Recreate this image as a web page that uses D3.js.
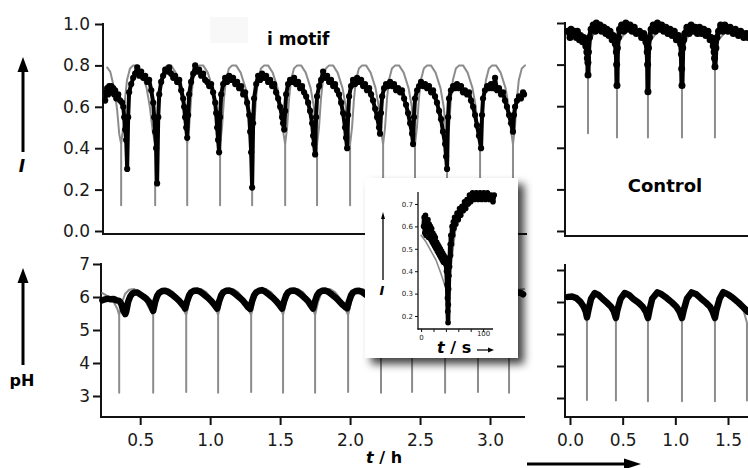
<!DOCTYPE html>
<html>
<head>
<meta charset="utf-8">
<script src="https://cdnjs.cloudflare.com/ajax/libs/d3/7.8.5/d3.min.js"></script>
<style>
  body { margin: 0; background: #fff; }
  svg { display: block; }
  text { font-family: "DejaVu Sans", Verdana, sans-serif; }
</style>
</head>
<body>
<div id="chart"></div>
<script>
// ---- data (t in hours, I = normalised intensity) ----
var ticksI = [0, 0.2, 0.4, 0.6, 0.8, 1.0];
var ticksPH = [3, 4, 5, 6, 7];
var ticksTLeft = [0.5, 1.0, 1.5, 2.0, 2.5, 3.0];
var ticksTRight = [0.0, 0.5, 1.0, 1.5];
var ticksInsetI = [0.2, 0.3, 0.4, 0.5, 0.6, 0.7];
var ticksInsetT = [0, 20, 40, 60, 80, 100];

// i motif, fluorescence: model (grey) and measured (black)
var modelTop = [
  [0.264,0.79],[0.286,0.77],[0.307,0.71],[0.321,0.66],[0.336,0.58],[0.350,0.47],
  [0.364,0.42],[0.364,0.125],[0.364,0.42],
  [0.378,0.50],[0.392,0.64],[0.406,0.73],[0.427,0.785],[0.450,0.80],[0.478,0.80],[0.511,0.765],[0.546,0.69],[0.569,0.60],[0.590,0.48],
  [0.607,0.42],[0.607,0.125],[0.607,0.42],
  [0.621,0.50],[0.635,0.64],[0.649,0.73],[0.670,0.785],[0.693,0.80],[0.721,0.80],[0.754,0.765],[0.789,0.69],[0.812,0.60],[0.827,0.48],
  [0.836,0.42],[0.836,0.125],[0.836,0.42],
  [0.850,0.50],[0.864,0.64],[0.878,0.73],[0.899,0.785],[0.922,0.80],[0.950,0.80],[0.983,0.765],[1.018,0.69],[1.041,0.60],[1.058,0.48],
  [1.071,0.42],[1.071,0.125],[1.071,0.42],
  [1.085,0.50],[1.099,0.64],[1.113,0.73],[1.134,0.785],[1.157,0.80],[1.185,0.80],[1.218,0.765],[1.253,0.69],[1.276,0.60],[1.291,0.48],
  [1.300,0.42],[1.300,0.125],[1.300,0.42],
  [1.314,0.50],[1.328,0.64],[1.342,0.73],[1.363,0.785],[1.386,0.80],[1.414,0.80],[1.447,0.765],[1.482,0.69],[1.505,0.60],[1.522,0.48],
  [1.536,0.42],[1.536,0.125],[1.536,0.42],
  [1.550,0.50],[1.564,0.64],[1.578,0.73],[1.599,0.785],[1.622,0.80],[1.650,0.80],[1.683,0.765],[1.718,0.69],[1.741,0.60],[1.756,0.48],
  [1.764,0.42],[1.764,0.125],[1.764,0.42],
  [1.778,0.50],[1.792,0.64],[1.806,0.73],[1.827,0.785],[1.850,0.80],[1.878,0.80],[1.911,0.765],[1.946,0.69],[1.969,0.60],[1.986,0.48],
  [2.000,0.42],[2.000,0.125],[2.000,0.42],
  [2.014,0.50],[2.028,0.64],[2.042,0.73],[2.063,0.785],[2.086,0.80],[2.114,0.80],[2.147,0.765],[2.182,0.69],[2.205,0.60],[2.222,0.48],
  [2.236,0.42],[2.236,0.125],[2.236,0.42],
  [2.250,0.50],[2.264,0.64],[2.278,0.73],[2.299,0.785],[2.322,0.80],[2.350,0.80],[2.383,0.765],[2.418,0.69],[2.441,0.60],[2.456,0.48],
  [2.464,0.42],[2.464,0.125],[2.464,0.42],
  [2.478,0.50],[2.492,0.64],[2.506,0.73],[2.527,0.785],[2.550,0.80],[2.578,0.80],[2.611,0.765],[2.646,0.69],[2.669,0.60],[2.685,0.48],
  [2.693,0.42],[2.693,0.125],[2.693,0.42],
  [2.707,0.50],[2.721,0.64],[2.735,0.73],[2.756,0.785],[2.779,0.80],[2.807,0.80],[2.840,0.765],[2.875,0.69],[2.898,0.60],[2.915,0.48],
  [2.929,0.42],[2.929,0.125],[2.929,0.42],
  [2.943,0.50],[2.957,0.64],[2.971,0.73],[2.992,0.785],[3.015,0.80],[3.043,0.80],[3.076,0.765],[3.111,0.69],[3.134,0.60],[3.151,0.48],
  [3.164,0.42],[3.164,0.125],[3.164,0.42],
  [3.178,0.50],[3.192,0.64],[3.206,0.73],[3.227,0.785],[3.250,0.80]
];

var measTop = [
  [0.250,0.63],[0.257,0.67],[0.264,0.69],[0.271,0.66],[0.279,0.70],[0.286,0.68],[0.293,0.70],[0.300,0.67],[0.307,0.69],[0.314,0.66],[0.321,0.68],[0.329,0.64],[0.343,0.66],[0.357,0.63],[0.371,0.62],[0.379,0.60],[0.386,0.55],[0.393,0.49],[0.400,0.44],[0.407,0.30],
  [0.414,0.55],[0.421,0.67],[0.436,0.71],[0.450,0.74],[0.464,0.76],[0.479,0.79],[0.493,0.75],[0.507,0.77],[0.521,0.74],[0.536,0.75],[0.550,0.72],[0.564,0.73],[0.579,0.68],[0.593,0.62],[0.600,0.55],[0.607,0.48],[0.614,0.40],[0.621,0.23],
  [0.629,0.55],[0.636,0.66],[0.650,0.72],[0.664,0.75],[0.679,0.78],[0.693,0.77],[0.707,0.79],[0.721,0.76],[0.736,0.74],[0.750,0.75],[0.764,0.72],[0.779,0.73],[0.793,0.68],[0.807,0.64],[0.814,0.60],[0.821,0.55],[0.829,0.50],[0.836,0.45],
  [0.843,0.56],[0.850,0.66],[0.864,0.72],[0.879,0.76],[0.893,0.80],[0.907,0.77],[0.921,0.78],[0.936,0.75],[0.950,0.76],[0.964,0.73],[0.979,0.72],[0.993,0.70],[1.007,0.71],[1.021,0.67],[1.036,0.62],[1.043,0.57],[1.050,0.50],[1.057,0.44],[1.064,0.38],
  [1.071,0.55],[1.079,0.66],[1.093,0.71],[1.107,0.74],[1.121,0.72],[1.136,0.75],[1.150,0.73],[1.164,0.74],[1.179,0.71],[1.193,0.72],[1.207,0.69],[1.221,0.70],[1.236,0.66],[1.250,0.67],[1.264,0.62],[1.279,0.56],[1.286,0.48],[1.293,0.38],[1.300,0.21],
  [1.307,0.52],[1.314,0.64],[1.329,0.71],[1.343,0.75],[1.357,0.73],[1.371,0.76],[1.386,0.74],[1.400,0.75],[1.414,0.72],[1.429,0.73],[1.443,0.70],[1.457,0.71],[1.471,0.67],[1.486,0.64],[1.500,0.60],[1.514,0.55],[1.521,0.52],[1.529,0.49],
  [1.536,0.58],[1.543,0.66],[1.557,0.71],[1.571,0.73],[1.586,0.72],[1.600,0.74],[1.614,0.71],[1.629,0.72],[1.643,0.69],[1.657,0.70],[1.671,0.67],[1.686,0.65],[1.700,0.62],[1.714,0.58],[1.729,0.52],[1.736,0.46],[1.743,0.42],[1.750,0.37],
  [1.757,0.55],[1.764,0.65],[1.779,0.70],[1.793,0.73],[1.807,0.77],[1.821,0.74],[1.836,0.75],[1.850,0.72],[1.864,0.73],[1.879,0.70],[1.893,0.71],[1.907,0.68],[1.921,0.66],[1.936,0.62],[1.950,0.57],[1.964,0.50],[1.971,0.45],[1.979,0.40],
  [1.986,0.56],[1.993,0.65],[2.007,0.70],[2.021,0.73],[2.036,0.71],[2.050,0.74],[2.064,0.72],[2.079,0.73],[2.093,0.70],[2.107,0.71],[2.121,0.68],[2.136,0.69],[2.150,0.66],[2.164,0.63],[2.179,0.59],[2.193,0.55],[2.207,0.50],[2.214,0.47],
  [2.221,0.57],[2.229,0.65],[2.243,0.69],[2.257,0.71],[2.271,0.70],[2.286,0.72],[2.300,0.70],[2.314,0.71],[2.329,0.68],[2.343,0.69],[2.357,0.67],[2.371,0.68],[2.386,0.64],[2.400,0.61],[2.414,0.57],[2.429,0.52],[2.443,0.47],[2.450,0.42],
  [2.457,0.55],[2.464,0.64],[2.479,0.68],[2.493,0.70],[2.507,0.72],[2.521,0.70],[2.536,0.71],[2.550,0.69],[2.564,0.70],[2.579,0.67],[2.593,0.68],[2.607,0.65],[2.621,0.62],[2.636,0.58],[2.650,0.54],[2.664,0.48],[2.679,0.42],[2.686,0.36],[2.693,0.30],
  [2.700,0.55],[2.707,0.64],[2.721,0.68],[2.736,0.70],[2.750,0.69],[2.764,0.71],[2.779,0.69],[2.793,0.70],[2.807,0.67],[2.821,0.68],[2.836,0.66],[2.850,0.67],[2.864,0.63],[2.879,0.60],[2.893,0.56],[2.907,0.51],[2.921,0.46],[2.936,0.40],
  [2.943,0.56],[2.950,0.64],[2.964,0.68],[2.979,0.70],[2.993,0.69],[3.007,0.71],[3.021,0.69],[3.036,0.74],[3.050,0.68],[3.064,0.69],[3.079,0.66],[3.093,0.67],[3.107,0.63],[3.121,0.60],[3.136,0.56],[3.150,0.52],[3.164,0.48],
  [3.171,0.56],[3.179,0.60],[3.193,0.63],[3.207,0.65],[3.221,0.64],[3.236,0.67],[3.243,0.66]
];

// i motif, pH
var modelPH = [
  [0.230,6.12],[0.257,6.05],[0.286,5.95],[0.314,5.82],[0.336,5.65],
  [0.350,5.45],[0.350,3.10],[0.350,5.45],
  [0.371,5.85],[0.393,6.10],[0.421,6.22],[0.457,6.24],[0.493,6.15],[0.529,5.95],[0.557,5.72],
  [0.593,5.45],[0.593,3.10],[0.593,5.45],
  [0.614,5.85],[0.636,6.10],[0.664,6.22],[0.700,6.24],[0.736,6.15],[0.772,5.95],[0.800,5.72],
  [0.829,5.45],[0.829,3.12],[0.829,5.45],
  [0.850,5.85],[0.872,6.10],[0.900,6.22],[0.936,6.24],[0.972,6.15],[1.008,5.95],[1.036,5.72],
  [1.057,5.45],[1.057,3.10],[1.057,5.45],
  [1.078,5.85],[1.100,6.10],[1.128,6.22],[1.164,6.24],[1.200,6.15],[1.236,5.95],[1.264,5.72],
  [1.293,5.45],[1.293,3.12],[1.293,5.45],
  [1.314,5.85],[1.336,6.10],[1.364,6.22],[1.400,6.24],[1.436,6.15],[1.472,5.95],[1.500,5.72],
  [1.521,5.45],[1.521,3.10],[1.521,5.45],
  [1.542,5.85],[1.564,6.10],[1.592,6.22],[1.628,6.24],[1.664,6.15],[1.700,5.95],[1.728,5.72],
  [1.750,5.45],[1.750,3.10],[1.750,5.45],
  [1.771,5.85],[1.793,6.10],[1.821,6.22],[1.857,6.24],[1.893,6.15],[1.929,5.95],[1.957,5.72],
  [1.986,5.45],[1.986,3.12],[1.986,5.45],
  [2.007,5.85],[2.029,6.10],[2.057,6.22],[2.093,6.24],[2.129,6.15],[2.165,5.95],[2.193,5.72],
  [2.221,5.45],[2.221,3.10],[2.221,5.45],
  [2.242,5.85],[2.264,6.10],[2.292,6.22],[2.328,6.24],[2.364,6.15],[2.400,5.95],[2.428,5.72],
  [2.443,5.45],[2.443,3.12],[2.443,5.45],
  [2.464,5.85],[2.486,6.10],[2.514,6.22],[2.550,6.24],[2.586,6.15],[2.622,5.95],[2.650,5.72],
  [2.679,5.45],[2.679,3.10],[2.679,5.45],
  [2.700,5.85],[2.722,6.10],[2.750,6.22],[2.786,6.24],[2.822,6.15],[2.858,5.95],[2.886,5.72],
  [2.914,5.45],[2.914,3.12],[2.914,5.45],
  [2.935,5.85],[2.957,6.10],[2.985,6.22],[3.021,6.24],[3.057,6.15],[3.093,5.95],[3.121,5.72],
  [3.136,5.45],[3.136,3.10],[3.136,5.45],
  [3.157,5.85],[3.179,6.10],[3.207,6.22],[3.243,6.24]
];

var measPH = [
  [0.230,5.90],[0.250,5.93],[0.270,5.95],[0.290,5.93],[0.310,5.94],[0.330,5.90],[0.350,5.88],[0.364,5.80],[0.379,5.60],[0.393,5.48],[0.400,5.55],
  [0.414,5.85],[0.429,6.02],[0.443,6.10],[0.457,6.13],[0.479,6.14],[0.500,6.08],[0.521,6.02],[0.543,5.95],[0.564,5.85],[0.579,5.72],[0.593,5.58],
  [0.607,5.85],[0.621,6.03],[0.636,6.13],[0.657,6.18],[0.679,6.19],[0.700,6.15],[0.729,6.07],[0.757,5.97],[0.779,5.88],[0.800,5.78],[0.814,5.70],[0.821,5.65],
  [0.836,5.88],[0.850,6.05],[0.864,6.14],[0.886,6.19],[0.907,6.20],[0.929,6.16],[0.957,6.07],[0.986,5.97],[1.007,5.88],[1.029,5.77],[1.043,5.69],[1.050,5.65],
  [1.065,5.88],[1.079,6.05],[1.093,6.14],[1.114,6.19],[1.136,6.20],[1.157,6.16],[1.186,6.07],[1.214,5.97],[1.236,5.88],[1.257,5.77],[1.271,5.69],[1.286,5.64],
  [1.300,5.88],[1.314,6.05],[1.329,6.14],[1.350,6.19],[1.371,6.21],[1.393,6.16],[1.421,6.07],[1.450,5.97],[1.471,5.88],[1.493,5.77],[1.507,5.69],[1.514,5.65],
  [1.529,5.88],[1.543,6.05],[1.557,6.14],[1.579,6.19],[1.600,6.20],[1.621,6.16],[1.650,6.07],[1.679,5.96],[1.700,5.87],[1.714,5.78],[1.729,5.69],[1.736,5.65],
  [1.750,5.88],[1.764,6.05],[1.779,6.14],[1.800,6.19],[1.821,6.20],[1.843,6.16],[1.871,6.07],[1.900,5.97],[1.921,5.88],[1.943,5.78],[1.964,5.70],[1.979,5.66],
  [1.993,5.88],[2.007,6.05],[2.021,6.14],[2.043,6.18],[2.064,6.19],[2.086,6.15],[2.114,6.07],[2.143,5.97],[2.164,5.88],[2.186,5.78],[2.200,5.70],[2.214,5.66],
  [2.229,5.88],[2.243,6.05],[2.257,6.14],[2.279,6.18],[2.300,6.19],[2.321,6.15],[2.350,6.07],[2.379,5.97],[2.400,5.88],[2.421,5.78],[2.436,5.70],[2.443,5.66],
  [2.457,5.88],[2.471,6.05],[2.486,6.14],[2.507,6.18],[2.529,6.19],[2.550,6.15],[2.579,6.07],[2.607,5.97],[2.629,5.88],[2.650,5.78],[2.664,5.70],[2.679,5.66],
  [2.693,5.88],[2.707,6.05],[2.721,6.14],[2.743,6.18],[2.764,6.19],[2.786,6.15],[2.814,6.07],[2.843,5.97],[2.864,5.88],[2.886,5.78],[2.900,5.70],[2.914,5.66],
  [2.929,5.88],[2.943,6.05],[2.957,6.14],[2.979,6.18],[3.000,6.19],[3.021,6.15],[3.050,6.07],[3.079,5.97],[3.100,5.88],[3.114,5.78],[3.129,5.70],[3.136,5.66],
  [3.150,5.88],[3.164,6.02],[3.179,6.10],[3.200,6.14],[3.221,6.12],[3.236,6.08]
];

// control, fluorescence
var modelCtrl = [
  [-0.03,0.95],[0.10,0.94],[0.171,0.90],[0.171,0.47],[0.171,0.90],
  [0.25,0.97],[0.40,0.94],[0.446,0.90],[0.446,0.45],[0.446,0.90],
  [0.55,0.97],[0.70,0.94],[0.740,0.90],[0.740,0.45],[0.740,0.90],
  [0.85,0.97],[1.02,0.94],[1.063,0.90],[1.063,0.45],[1.063,0.90],
  [1.18,0.97],[1.35,0.94],[1.376,0.90],[1.376,0.45],[1.376,0.90],
  [1.50,0.97],[1.69,0.94]
];

var measCtrl = [
  [-0.02,0.96],[0.00,0.93],[0.01,0.97],[0.03,0.94],[0.04,0.96],[0.06,0.93],[0.07,0.96],[0.09,0.92],[0.10,0.94],[0.12,0.91],[0.13,0.93],[0.15,0.89],
  [0.160,0.86],[0.165,0.83],[0.170,0.81],[0.171,0.75],[0.175,0.86],[0.185,0.93],
  [0.20,0.97],[0.22,0.99],[0.24,0.96],[0.25,1.00],[0.27,0.97],[0.285,0.99],[0.30,0.96],[0.32,0.98],[0.34,0.95],[0.35,0.97],[0.37,0.94],[0.38,0.96],[0.40,0.92],[0.41,0.94],[0.43,0.90],
  [0.440,0.86],[0.443,0.80],[0.446,0.70],[0.450,0.88],[0.46,0.93],
  [0.47,0.97],[0.49,0.99],[0.51,0.96],[0.53,1.00],[0.55,0.97],[0.57,0.99],[0.59,0.96],[0.61,0.98],[0.63,0.95],[0.66,0.96],[0.68,0.93],[0.70,0.95],[0.72,0.91],
  [0.733,0.86],[0.737,0.80],[0.740,0.67],[0.745,0.88],[0.755,0.93],
  [0.77,0.97],[0.79,0.99],[0.81,0.96],[0.83,1.00],[0.85,0.97],[0.87,0.99],[0.89,0.96],[0.91,0.98],[0.93,0.95],[0.95,0.97],[0.97,0.94],[0.99,0.96],[1.01,0.92],[1.03,0.94],[1.05,0.90],
  [1.058,0.85],[1.060,0.78],[1.063,0.70],[1.070,0.88],[1.08,0.92],
  [1.09,0.95],[1.11,0.98],[1.13,0.95],[1.15,0.99],[1.17,0.96],[1.19,0.98],[1.21,0.95],[1.23,0.98],[1.25,0.95],[1.27,0.97],[1.29,0.94],[1.31,0.96],[1.33,0.92],[1.34,0.93],[1.36,0.89],
  [1.368,0.86],[1.372,0.83],[1.376,0.79],[1.385,0.88],[1.395,0.93],
  [1.41,0.96],[1.43,0.99],[1.45,0.96],[1.47,0.99],[1.50,0.96],[1.52,0.98],[1.55,0.95],[1.57,0.97],[1.60,0.94],[1.62,0.96],[1.65,0.93],[1.67,0.95],[1.69,0.93]
];

// control, pH
var modelCtrlPH = [
  [-0.03,6.18],[0.03,6.15],[0.08,6.05],[0.12,5.88],[0.145,5.65],
  [0.161,5.35],[0.161,2.94],[0.161,5.35],
  [0.181,5.85],[0.211,6.15],[0.241,6.27],[0.281,6.22],[0.331,6.08],[0.381,5.90],[0.406,5.70],
  [0.436,5.35],[0.436,2.92],[0.436,5.35],
  [0.456,5.85],[0.486,6.15],[0.516,6.27],[0.556,6.22],[0.606,6.08],[0.656,5.90],[0.710,5.70],
  [0.740,5.35],[0.740,2.90],[0.740,5.35],
  [0.760,5.85],[0.790,6.15],[0.820,6.27],[0.860,6.22],[0.910,6.08],[0.980,5.90],[1.033,5.70],
  [1.063,5.35],[1.063,2.90],[1.063,5.35],
  [1.083,5.85],[1.113,6.15],[1.143,6.27],[1.183,6.22],[1.233,6.08],[1.293,5.90],[1.346,5.70],
  [1.376,5.35],[1.376,2.90],[1.376,5.35],
  [1.396,5.85],[1.426,6.15],[1.456,6.27],[1.496,6.22],[1.546,6.08],[1.606,5.90],[1.650,5.70],
  [1.680,5.35],[1.680,2.92]
];

var measCtrlPH = [
  [-0.02,6.16],[0.02,6.17],[0.06,6.12],[0.10,6.00],[0.13,5.85],[0.15,5.70],[0.161,5.52],
  [0.175,5.75],[0.20,6.10],[0.235,6.28],[0.27,6.22],[0.31,6.10],[0.35,5.98],[0.39,5.85],[0.415,5.72],[0.436,5.50],
  [0.45,5.75],[0.48,6.10],[0.52,6.28],[0.56,6.22],[0.60,6.10],[0.65,5.98],[0.69,5.85],[0.72,5.70],[0.740,5.50],
  [0.755,5.75],[0.78,6.10],[0.83,6.30],[0.87,6.24],[0.92,6.12],[0.97,5.98],[1.01,5.85],[1.04,5.70],[1.063,5.50],
  [1.08,5.75],[1.11,6.10],[1.155,6.30],[1.20,6.24],[1.24,6.12],[1.29,5.98],[1.33,5.85],[1.355,5.70],[1.376,5.50],
  [1.39,5.75],[1.42,6.10],[1.455,6.31],[1.50,6.24],[1.55,6.12],[1.60,5.98],[1.65,5.82],[1.69,5.69]
];

// inset: single pulse, t in seconds
var modelInset = [
  [0,0.56],[8,0.53],[16,0.49],[24,0.45],[32,0.39],[38,0.34],[42,0.30],[43.5,0.20],
  [45,0.30],[47,0.38],[50,0.46],[53,0.53],[56,0.59],[62,0.65],[70,0.69],[80,0.71],[95,0.72],[115,0.72]
];

var measInset = [
  [4,0.60],[5,0.64],[6,0.57],[7,0.65],[8,0.56],[9,0.62],[10,0.58],[11,0.63],[12,0.55],[13,0.61],[14,0.56],[15,0.60],
  [16,0.54],[17,0.59],[18,0.53],[19,0.57],[20,0.52],[21,0.56],[22,0.51],[23,0.55],[24,0.50],[25,0.53],[26,0.49],[27,0.52],
  [28,0.48],[29,0.51],[30,0.47],[31,0.50],[32,0.46],[33,0.49],[34,0.45],[35,0.48],[36,0.44],[37,0.47],[38,0.44],[39,0.46],
  [40,0.43],[41,0.40],[42,0.34],[42.5,0.28],[43,0.22],[43.5,0.17],[44,0.25],[44.5,0.32],[45,0.38],[45.5,0.46],[46,0.42],
  [47,0.52],[47.5,0.47],[48,0.56],[49,0.52],[50,0.60],[51,0.56],[52,0.62],[53,0.59],[54,0.64],[56,0.61],[58,0.66],
  [60,0.63],[62,0.68],[64,0.65],[66,0.69],[68,0.67],[70,0.71],[72,0.68],[74,0.72],[76,0.70],[78,0.74],[80,0.71],
  [83,0.75],[86,0.72],[89,0.75],[92,0.72],[95,0.75],[98,0.72],[101,0.75],[104,0.72],[107,0.75],[110,0.72],[113,0.74],
  [116,0.71],[118,0.74]
];

// ---- drawing ----
var svg = d3.select("#chart").append("svg")
  .attr("width", 748)
  .attr("height", 468);

var defs = svg.append("defs");
var shadow = defs.append("filter").attr("id", "shadow")
  .attr("x", "-20%").attr("y", "-20%").attr("width", "150%").attr("height", "150%");
shadow.append("feDropShadow")
  .attr("dx", 6).attr("dy", 6)
  .attr("stdDeviation", 4)
  .attr("flood-color", "#000")
  .attr("flood-opacity", 0.75);

var GREY = "#8c8c8c";

var xL = d3.scaleLinear().domain([0.22, 3.25]).range([101, 525]);
var xR = d3.scaleLinear().domain([0, 1.5]).range([570, 728]);
var yTop = d3.scaleLinear().domain([0, 1]).range([231, 24]);
var yTopR = d3.scaleLinear().domain([0, 1]).range([231, 23]);
var yPH = d3.scaleLinear().domain([3, 7]).range([396, 264]);
var yPHR = d3.scaleLinear().domain([3, 7]).range([398, 270]);

function axisLine(x1, y1, x2, y2) {
  svg.append("line")
    .attr("x1", x1).attr("y1", y1)
    .attr("x2", x2).attr("y2", y2)
    .attr("stroke", "#111")
    .attr("stroke-width", 2);
}

function styleAxis(g, size) {
  g.select(".domain").remove();
  g.selectAll(".tick line").attr("stroke", "#111").attr("stroke-width", 2);
  g.selectAll(".tick text")
    .attr("fill", "#1a1a1a")
    .style("font-size", size + "px")
    .style("font-family", "'DejaVu Sans', Verdana, sans-serif");
}

function series(data, x, y, color, width, dots) {
  var line = d3.line()
    .x(function(d) { return x(d[0]); })
    .y(function(d) { return y(d[1]); });
  svg.append("path")
    .datum(data)
    .attr("d", line)
    .attr("fill", "none")
    .attr("stroke", color)
    .attr("stroke-width", width)
    .attr("stroke-linejoin", "round")
    .attr("stroke-linecap", "round");
  if (dots) {
    svg.append("g").selectAll("circle")
      .data(data)
      .join("circle")
      .attr("cx", function(d) { return x(d[0]); })
      .attr("cy", function(d) { return y(d[1]); })
      .attr("r", dots)
      .attr("fill", color);
  }
}

// faint box behind the title
svg.append("rect")
  .attr("x", 210).attr("y", 17)
  .attr("width", 38).attr("height", 26)
  .attr("fill", "#f8f8f8");

// top-left panel (i motif, I)
var gy1 = svg.append("g").attr("transform", "translate(103,0)")
  .call(d3.axisLeft(yTop).tickValues(ticksI).tickFormat(d3.format(".1f")).tickSize(8).tickPadding(5));
styleAxis(gy1, 17);
axisLine(103, 23, 103, 235);
axisLine(102, 234, 527, 234);

series(modelTop, xL, yTop, GREY, 2, 0);
series(measTop, xL, yTop, "#000", 4, 3.1);

svg.append("text")
  .attr("x", 267).attr("y", 45)
  .attr("font-weight", "bold")
  .style("font-size", "17px")
  .text("i motif");

// bottom-left panel (i motif, pH)
var gy2 = svg.append("g").attr("transform", "translate(101,0)")
  .call(d3.axisLeft(yPH).tickValues(ticksPH).tickFormat(d3.format("d")).tickSize(8).tickPadding(3));
styleAxis(gy2, 17);
var gx2 = svg.append("g").attr("transform", "translate(0,417)")
  .call(d3.axisBottom(xL).tickValues(ticksTLeft).tickFormat(d3.format(".1f")).tickSize(8).tickPadding(9));
styleAxis(gx2, 17);
axisLine(101, 263, 101, 418);
axisLine(100, 417, 525, 417);

series(modelPH, xL, yPH, GREY, 2, 0);
series(measPH, xL, yPH, "#000", 6.5, 0);

// top-right panel (control, I)
var gy3 = svg.append("g").attr("transform", "translate(565,0)")
  .call(d3.axisLeft(yTopR).tickValues(ticksI).tickFormat("").tickSize(8));
styleAxis(gy3, 17);
axisLine(565, 22, 565, 237);
axisLine(564, 236, 748, 236);

series(modelCtrl, xR, yTopR, GREY, 2, 0);
series(measCtrl, xR, yTopR, "#000", 5, 3.5);

svg.append("text")
  .attr("x", 665).attr("y", 192)
  .attr("text-anchor", "middle")
  .attr("font-weight", "bold")
  .style("font-size", "18px")
  .text("Control");

// bottom-right panel (control, pH)
var gy4 = svg.append("g").attr("transform", "translate(565,0)")
  .call(d3.axisLeft(yPHR).tickValues(ticksPH).tickFormat("").tickSize(8));
styleAxis(gy4, 17);
var gx4 = svg.append("g").attr("transform", "translate(0,417)")
  .call(d3.axisBottom(xR).tickValues(ticksTRight).tickFormat(d3.format(".1f")).tickSize(8).tickPadding(9));
styleAxis(gx4, 17);
axisLine(565, 264, 565, 418);
axisLine(564, 417, 748, 417);

series(modelCtrlPH, xR, yPHR, GREY, 2, 0);
series(measCtrlPH, xR, yPHR, "#000", 6.5, 0);

// axis titles and arrows
function arrowUp(x, yTip, yEnd) {
  svg.append("line")
    .attr("x1", x).attr("y1", yTip + 12)
    .attr("x2", x).attr("y2", yEnd)
    .attr("stroke", "#000").attr("stroke-width", 3);
  svg.append("path")
    .attr("d", "M" + x + "," + yTip + "L" + (x - 5.5) + "," + (yTip + 15) + "L" + (x + 5.5) + "," + (yTip + 15) + "Z")
    .attr("fill", "#000");
}
arrowUp(23, 57, 152);
arrowUp(23, 268, 365);

svg.append("text")
  .attr("x", 22).attr("y", 172)
  .attr("text-anchor", "middle")
  .attr("font-weight", "bold").attr("font-style", "italic")
  .style("font-size", "17px")
  .text("I");

svg.append("text")
  .attr("x", 22).attr("y", 386)
  .attr("text-anchor", "middle")
  .attr("font-weight", "bold")
  .style("font-size", "16px")
  .text("pH");

var th = svg.append("text")
  .attr("x", 384).attr("y", 463)
  .attr("text-anchor", "middle")
  .attr("font-weight", "bold")
  .style("font-size", "16px");
th.append("tspan").attr("font-style", "italic").text("t");
th.append("tspan").text(" / h");

svg.append("line")
  .attr("x1", 527).attr("y1", 464)
  .attr("x2", 626).attr("y2", 464)
  .attr("stroke", "#000").attr("stroke-width", 3);
svg.append("path")
  .attr("d", "M641,464L624,458.5L624,469.5Z")
  .attr("fill", "#000");

// ---- inset ----
svg.append("rect")
  .attr("x", 365).attr("y", 178)
  .attr("width", 153).attr("height", 180)
  .attr("fill", "#fff")
  .attr("filter", "url(#shadow)");

var xIn = d3.scaleLinear().domain([-5, 116]).range([418, 493]);
var yIn = d3.scaleLinear().domain([0.142, 0.749]).range([329, 193]);

var giy = svg.append("g").attr("transform", "translate(418,0)")
  .call(d3.axisLeft(yIn).tickValues(ticksInsetI).tickFormat(d3.format(".1f")).tickSize(3).tickPadding(2));
styleAxis(giy, 7);
giy.selectAll(".tick line").attr("stroke-width", 1);
var gix = svg.append("g").attr("transform", "translate(0,329)")
  .call(d3.axisBottom(xIn).tickValues(ticksInsetT)
    .tickFormat(function(d) { return (d === 0 || d === 100) ? d : ""; })
    .tickSize(3).tickPadding(3));
styleAxis(gix, 7);
gix.selectAll(".tick line").attr("stroke-width", 1);
gix.selectAll(".tick text").attr("dy", function(d) { return d === 100 ? "0.1em" : "0.71em"; });

svg.append("line")
  .attr("x1", 418).attr("y1", 192).attr("x2", 418).attr("y2", 329.5)
  .attr("stroke", "#111").attr("stroke-width", 1.3);
svg.append("line")
  .attr("x1", 417.5).attr("y1", 329).attr("x2", 493).attr("y2", 329)
  .attr("stroke", "#111").attr("stroke-width", 1.3);

series(modelInset, xIn, yIn, GREY, 1.6, 0);
series(measInset, xIn, yIn, "#000", 4.5, 2.8);

svg.append("line")
  .attr("x1", 383).attr("y1", 218).attr("x2", 383).attr("y2", 280)
  .attr("stroke", "#000").attr("stroke-width", 1.3);
svg.append("path")
  .attr("d", "M383,212L381,219L385,219Z")
  .attr("fill", "#000");
svg.append("text")
  .attr("x", 382).attr("y", 295)
  .attr("text-anchor", "middle")
  .attr("font-weight", "bold").attr("font-style", "italic")
  .style("font-size", "13px")
  .text("I");

var ts = svg.append("text")
  .attr("x", 437).attr("y", 353)
  .attr("font-weight", "bold")
  .style("font-size", "16px");
ts.append("tspan").attr("font-style", "italic").text("t");
ts.append("tspan").text(" / s");

svg.append("line")
  .attr("x1", 477).attr("y1", 350).attr("x2", 490).attr("y2", 350)
  .attr("stroke", "#000").attr("stroke-width", 1.2);
svg.append("path")
  .attr("d", "M494,350L488,347.5L488,352.5Z")
  .attr("fill", "#000");
</script>
</body>
</html>
